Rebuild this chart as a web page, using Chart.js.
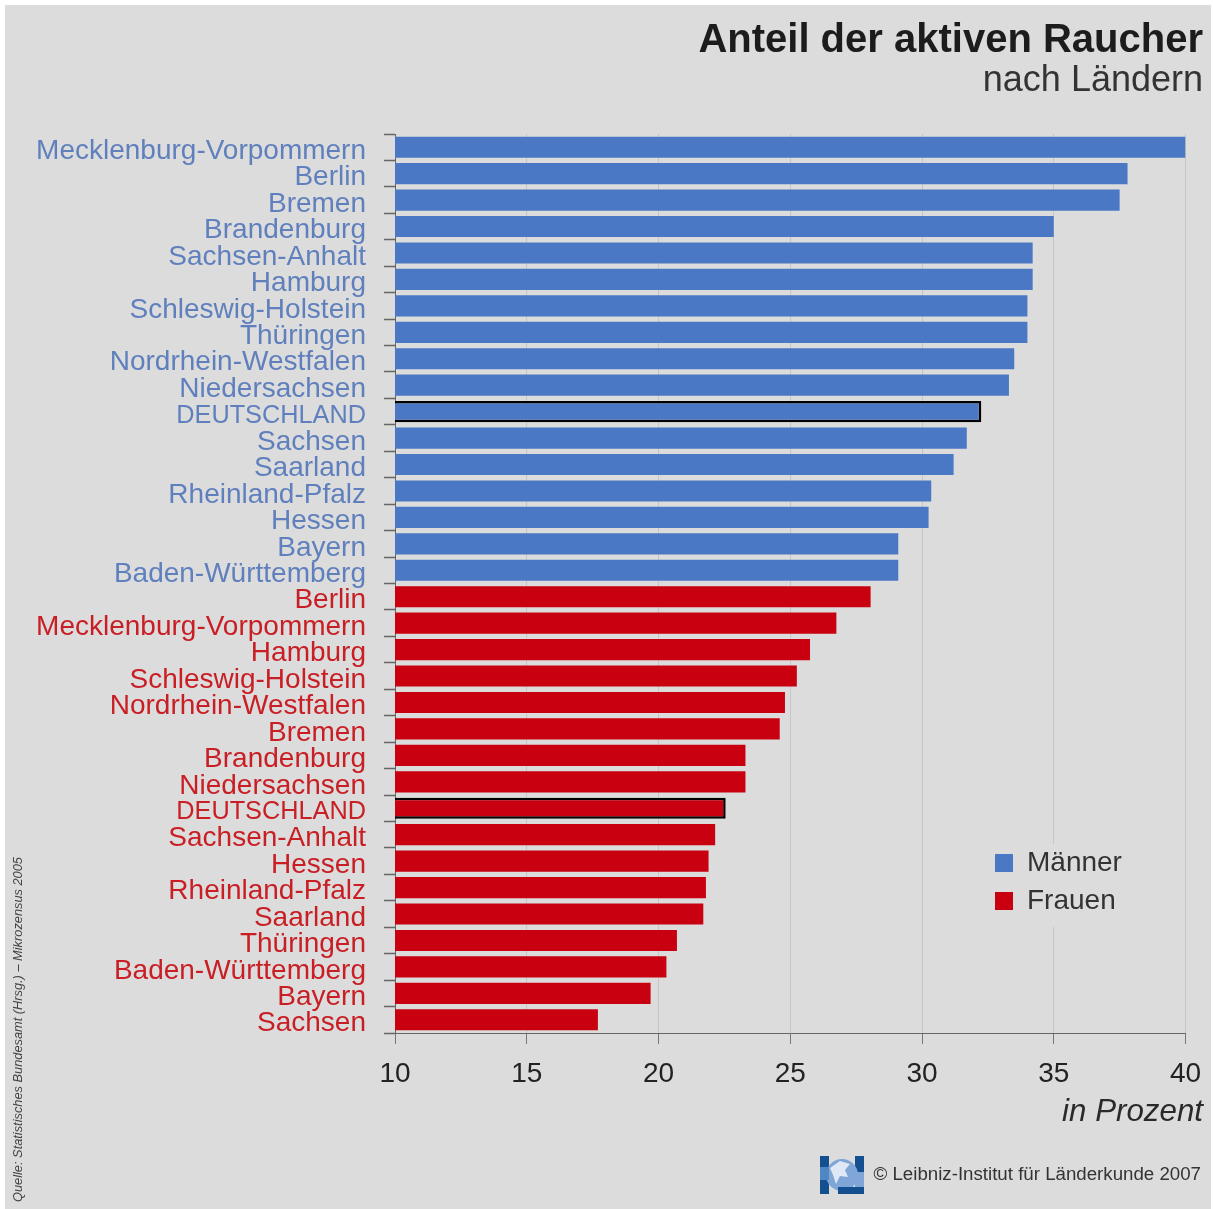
<!DOCTYPE html>
<html lang="de">
<head>
<meta charset="utf-8">
<title>Anteil der aktiven Raucher</title>
<script src="https://cdn.jsdelivr.net/npm/chart.js@4"></script>
<style>
  html, body { margin: 0; padding: 0; background: #fff; }
  body { position: relative; width: 1213px; height: 1209px; overflow: hidden; font-family: "Liberation Sans", Arial, sans-serif; }
  #bg { position: absolute; left: 5px; top: 5px; width: 1206px; height: 1204px; background: #dcdcdc; }
  canvas { position: absolute; left: 0; top: 0; }
  .note { position: absolute; white-space: nowrap; }
  #title { right: 10px; top: 16px; font-size: 40px; font-weight: bold; color: #1c1c1c; }
  #subtitle { right: 10px; top: 58px; font-size: 36px; color: #333; }
  #unit { right: 10px; top: 1093px; font-size: 31.3px; font-style: italic; color: #2a2a2a; }
  #copy { right: 12px; top: 1163px; font-size: 18.7px; color: #333; }
  #source { left: 10px; top: 1202px; font-size: 12.8px; font-style: italic; color: #444; transform-origin: 0 0; transform: rotate(-90deg); }
  #logo { position: absolute; left: 820px; top: 1155px; }
</style>
</head>
<body>
<div id="bg"></div>
<canvas id="chart" width="1213" height="1209"></canvas>
<div class="note" id="title">Anteil der aktiven Raucher</div>
<div class="note" id="subtitle">nach Ländern</div>
<div class="note" id="unit">in Prozent</div>
<div class="note" id="copy">© Leibniz-Institut für Länderkunde 2007</div>
<div class="note" id="source">Quelle: Statistisches Bundesamt (Hrsg.) – Mikrozensus 2005</div>
<svg id="logo" width="44" height="39" viewBox="0 0 44 39">
  <rect x="0" y="1" width="9" height="38" fill="#14508f"/>
  <rect x="35" y="1" width="9" height="16" fill="#14508f"/>
  <circle cx="22" cy="20" r="16" fill="#7fa6d6"/>
  <rect x="0" y="12" width="9" height="13" fill="#4f86c4"/>
  <rect x="35" y="17" width="9" height="15" fill="#7fa6d6"/>
  <rect x="18" y="32" width="26" height="7" fill="#14508f"/>
  <path d="M10 13 L20 6 L30 9 L25 15 L28 22 L20 21 L16 29 L13 20 Z" fill="#dfe8f4"/>
</svg>

<script>
// values
const menLabels = ['Mecklenburg-Vorpommern', 'Berlin', 'Bremen', 'Brandenburg', 'Sachsen-Anhalt', 'Hamburg',
  'Schleswig-Holstein', 'Thüringen', 'Nordrhein-Westfalen', 'Niedersachsen', 'DEUTSCHLAND', 'Sachsen',
  'Saarland', 'Rheinland-Pfalz', 'Hessen', 'Bayern', 'Baden-Württemberg'];
const menValues = [40.0, 37.8, 37.5, 35.0, 34.2, 34.2, 34.0, 34.0, 33.5, 33.3, 32.25, 31.7, 31.2, 30.35, 30.25, 29.1, 29.1];

const womenLabels = ['Berlin', 'Mecklenburg-Vorpommern', 'Hamburg', 'Schleswig-Holstein', 'Nordrhein-Westfalen',
  'Bremen', 'Brandenburg', 'Niedersachsen', 'DEUTSCHLAND', 'Sachsen-Anhalt', 'Hessen', 'Rheinland-Pfalz',
  'Saarland', 'Thüringen', 'Baden-Württemberg', 'Bayern', 'Sachsen'];
const womenValues = [28.05, 26.75, 25.75, 25.25, 24.8, 24.6, 23.3, 23.3, 22.55, 22.15, 21.9, 21.8, 21.7, 20.7, 20.3, 19.7, 17.7];

const labels = menLabels.concat(womenLabels);
const menData = menValues.concat(womenValues.map(() => null));
const womenData = menValues.map(() => null).concat(womenValues);

const isTotal = ctx => labels[ctx.dataIndex] === 'DEUTSCHLAND';

Chart.defaults.font.family = '"Liberation Sans", Arial, sans-serif';

// legend sits inside the plot, lower right, on a patch that hides the gridline
const moveLegend = {
  id: 'moveLegend',
  beforeDraw(chart) {
    const l = chart.legend;
    const w = l.width, h = l.height;
    l.left = 985; l.right = 985 + w;
    l.top = 839; l.bottom = 839 + h;
  },
  afterDatasetsDraw(chart) {
    const c = chart.ctx;
    c.save();
    c.fillStyle = '#dcdcdc';
    c.fillRect(985, 844, 145, 83);
    c.restore();
    chart.legend.draw();
  }
};

new Chart(document.getElementById('chart'), {
  type: 'bar',
  data: {
    labels,
    datasets: [
      { label: 'Männer', data: menData, backgroundColor: '#4a78c4' },
      { label: 'Frauen', data: womenData, backgroundColor: '#c8000f' }
    ]
  },
  options: {
    indexAxis: 'y',
    responsive: false,
    animation: false,
    layout: { padding: { top: 134, right: 27.5, left: 0, bottom: 0 } },
    datasets: {
      bar: {
        grouped: false,
        barPercentage: 0.8,
        categoryPercentage: 1,
        inflateAmount: 0,
        borderSkipped: false,
        borderColor: '#000',
        borderWidth: ctx => (isTotal(ctx) ? 2.5 : 0)
      }
    },
    plugins: {
      tooltip: { enabled: false },
      legend: {
        position: 'chartArea',
        align: 'start',
        labels: { boxWidth: 18, boxHeight: 18, padding: 10, color: '#333', font: { size: 28 } }
      }
    },
    scales: {
      x: {
        type: 'linear',
        min: 10,
        max: 40,
        // the label padding would otherwise pull the right end of the axis in
        afterFit(scale) { scale.height = 176; scale.paddingLeft = 0; scale.paddingRight = 0; },
        border: { color: '#666', width: 1 },
        grid: { color: '#c6c6c6', tickColor: '#777', tickLength: 11 },
        ticks: { stepSize: 5, maxRotation: 0, padding: 13, color: '#222', font: { size: 28 } }
      },
      y: {
        type: 'category',
        afterFit(scale) { scale.width = 395; },
        border: { color: '#666', width: 1 },
        grid: { drawOnChartArea: false, offset: true, tickColor: '#666', tickWidth: 1.5, tickLength: 11 },
        ticks: {
          autoSkip: false,
          padding: 18,
          // empty first line moves the name down a little, as in the original
          callback(value) { return ['', this.getLabelForValue(value)]; },
          font: ctx => ({ size: labels[ctx.index] === 'DEUTSCHLAND' ? 25.3 : 28, lineHeight: '8px' }),
          color: ctx => (ctx.index < menLabels.length ? '#5f80bd' : '#c81e24')
        }
      }
    }
  },
  plugins: [moveLegend]
});
</script>
</body>
</html>
